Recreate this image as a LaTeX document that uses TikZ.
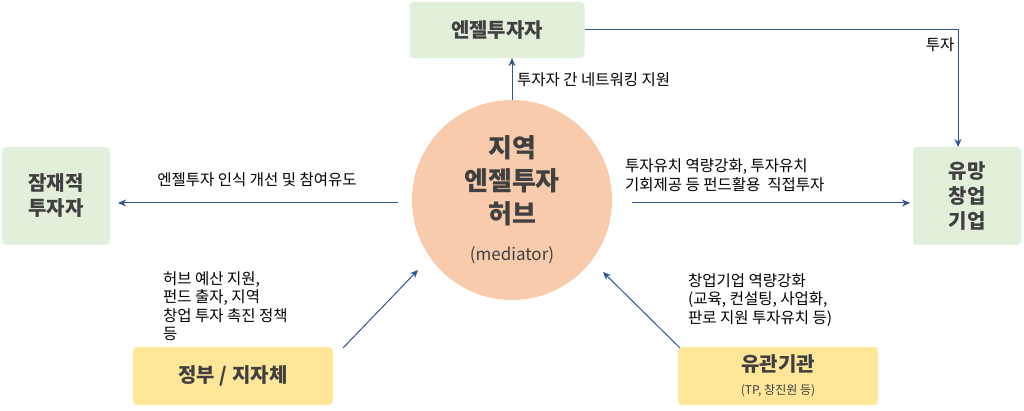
\documentclass[tikz,border=0pt]{standalone}
\usepackage{fontspec}
\setmainfont{Noto Sans CJK KR}
\usetikzlibrary{arrows.meta}
\definecolor{gbox}{HTML}{E2EFDA}
\definecolor{ybox}{HTML}{FFE699}
\definecolor{hub}{HTML}{F8CBAD}
\definecolor{arr}{HTML}{2F5597}
\definecolor{tx}{HTML}{404040}
\begin{document}
\begin{tikzpicture}[x=1pt,y=-1pt,
  box/.style={rounded corners=4pt,inner sep=0pt,text=tx,font=\bfseries\fontsize{20}{25}\selectfont,align=center},
  lab/.style={font=\fontsize{15.5}{18.5}\selectfont,align=left,inner sep=0pt},
  con/.style={draw=arr,line width=1pt,-{Stealth[length=8pt,width=7pt]}}]
\useasboundingbox (0,0) rectangle (1024,411);
\node[box,fill=gbox,minimum width=175pt,minimum height=56pt] (top) at (497,30) {엔젤투자자};
\node[box,fill=gbox,minimum width=108pt,minimum height=98pt] (left) at (56,196) {잠재적\\투자자};
\node[box,fill=gbox,minimum width=108pt,minimum height=98pt] (right) at (967,196) {유망\\창업\\기업};
\node[box,fill=ybox,minimum width=200pt,minimum height=58pt] (gov) at (233,376) {정부 / 지자체};
\node[box,fill=ybox,minimum width=200pt,minimum height=58pt] (org) at (778,376) {유관기관\\[-2pt]\mdseries\fontsize{12}{14}\selectfont (TP, 창진원 등)};
\node[circle,fill=hub,minimum size=200pt,inner sep=0pt,align=center,text=tx,font=\bfseries\fontsize{26}{33}\selectfont] (hub) at (512,200) {지역\\엔젤투자\\허브\\[4pt]\mdseries\fontsize{17}{20}\selectfont (mediator)};
\coordinate (tr) at (958,30);
\coordinate (rt) at (958,147);
\draw[con] (hub.north) -- (hub.north |- top.south);
\node[lab,anchor=west] (l1) at (517,80) {투자자 간 네트워킹 지원};
\draw[con] (top.east) -- (tr) -- (rt);
\node[lab] (l2) at (940,45) {투자};
\draw[con] (398,203) -- (118,203);
\node[lab] (l3) at (257,180) {엔젤투자 인식 개선 및 참여유도};
\draw[con] (632,203) -- (910,203);
\node[lab,anchor=west] (l4) at (625,175) {투자유치 역량강화, 투자유치\\기회제공 등 펀드활용\ \ 직접투자};
\draw[con] (343,348) -- (418,270);
\node[lab,anchor=north west] (l5) at (163,271) {허브 예산 지원,\\펀드 출자, 지역\\창업 투자 촉진 정책\\등};
\draw[con] (680,348) -- (603,272);
\node[lab,anchor=north west] (l6) at (688,273) {창업기업 역량강화\\(교육, 컨설팅, 사업화,\\판로 지원 투자유치 등)};
\end{tikzpicture}
\end{document}
